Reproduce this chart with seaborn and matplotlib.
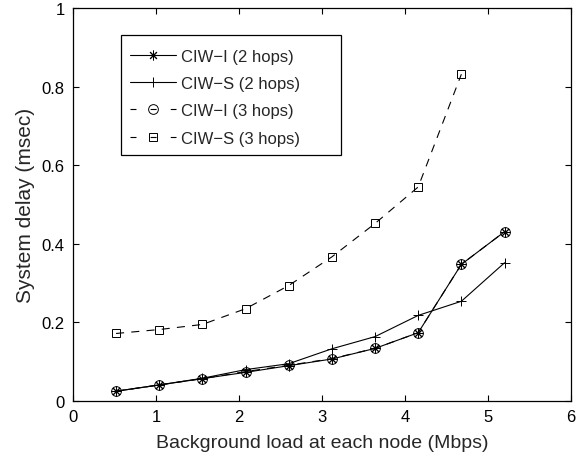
import matplotlib
matplotlib.use("Agg")
import matplotlib.pyplot as plt
from matplotlib.patches import Rectangle
import seaborn as sns
import pandas as pd

sns.set_style("ticks")
plt.rcParams['font.family'] = ['Liberation Sans', 'DejaVu Sans']
plt.rcParams['lines.scale_dashes'] = False

# background load (Mbps)
load = [0.52, 1.04, 1.56, 2.08, 2.6, 3.12, 3.64, 4.16, 4.68, 5.2]

ciw_i_2 = [0.025, 0.041, 0.057, 0.073, 0.090, 0.107, 0.134, 0.174, 0.348, 0.431]
ciw_s_2 = [0.025, 0.041, 0.058, 0.080, 0.095, 0.133, 0.164, 0.218, 0.254, 0.352]
ciw_i_3 = [0.025, 0.041, 0.057, 0.075, 0.091, 0.108, 0.134, 0.174, 0.348, 0.431]
ciw_s_3 = [0.172, 0.182, 0.195, 0.235, 0.294, 0.367, 0.452, 0.545, 0.832]

# asterisk with 8 arms, like the matlab '*'
star = (8, 2, 0)

series = [
    ("CIW\u2212I (2 hops)", load, ciw_i_2, star, "-"),
    ("CIW\u2212S (2 hops)", load, ciw_s_2, "+", "-"),
    ("CIW\u2212I (3 hops)", load, ciw_i_3, "o", "--"),
    ("CIW\u2212S (3 hops)", load[:len(ciw_s_3)], ciw_s_3, "s", "--"),
]

fig, ax = plt.subplots(figsize=(5.88, 4.6), dpi=100)
fig.subplots_adjust(left=0.124, right=0.971, top=0.980, bottom=0.126)

for name, xs, ys, mk, ls in series:
    df = pd.DataFrame({"x": xs, "y": ys})
    size = 6 if mk == "s" else 7
    sns.lineplot(data=df, x="x", y="y", ax=ax, color="black", lw=0.8,
                 linestyle=ls, marker=mk, markersize=size,
                 markerfacecolor="none", markeredgecolor="black",
                 markeredgewidth=0.7, label=name)
    if ls == "--":
        ax.lines[-1].set_dashes((5.8, 5.2))

ax.set_xlim(0, 6)
ax.set_ylim(0, 1)
ax.set_xticks(range(0, 7))
ax.set_yticks([0, 0.2, 0.4, 0.6, 0.8, 1])
ax.set_yticklabels(["0", "0.2", "0.4", "0.6", "0.8", "1"])
ax.set_xlabel("Background load at each node (Mbps)", fontsize=14, labelpad=7)
ax.set_ylabel("System delay (msec)", fontsize=15, labelpad=5)
ax.tick_params(direction="in", top=True, right=True, labelsize=12, length=4,
               width=0.8, colors="black", pad=6)
for sp in ax.spines.values():
    sp.set_linewidth(0.9)
    sp.set_color("black")

# matlab style legend: wide box with extra room on the right
ax.add_patch(Rectangle((0.0964, 0.626), 0.442, 0.305, transform=ax.transAxes,
                       facecolor="white", edgecolor="black", lw=0.9, zorder=4))
leg = ax.legend(loc="upper left", bbox_to_anchor=(0.1145, 0.897),
                borderaxespad=0, borderpad=0, frameon=False,
                fontsize=12, handlelength=2.75, labelspacing=0.74,
                handletextpad=0.3)
leg.set_zorder(5)
for ln in leg.get_lines():
    if ln.get_linestyle() != "-":
        ln.set_dashes((4.3, 10.2))

fig.savefig("out.png", dpi=100)
